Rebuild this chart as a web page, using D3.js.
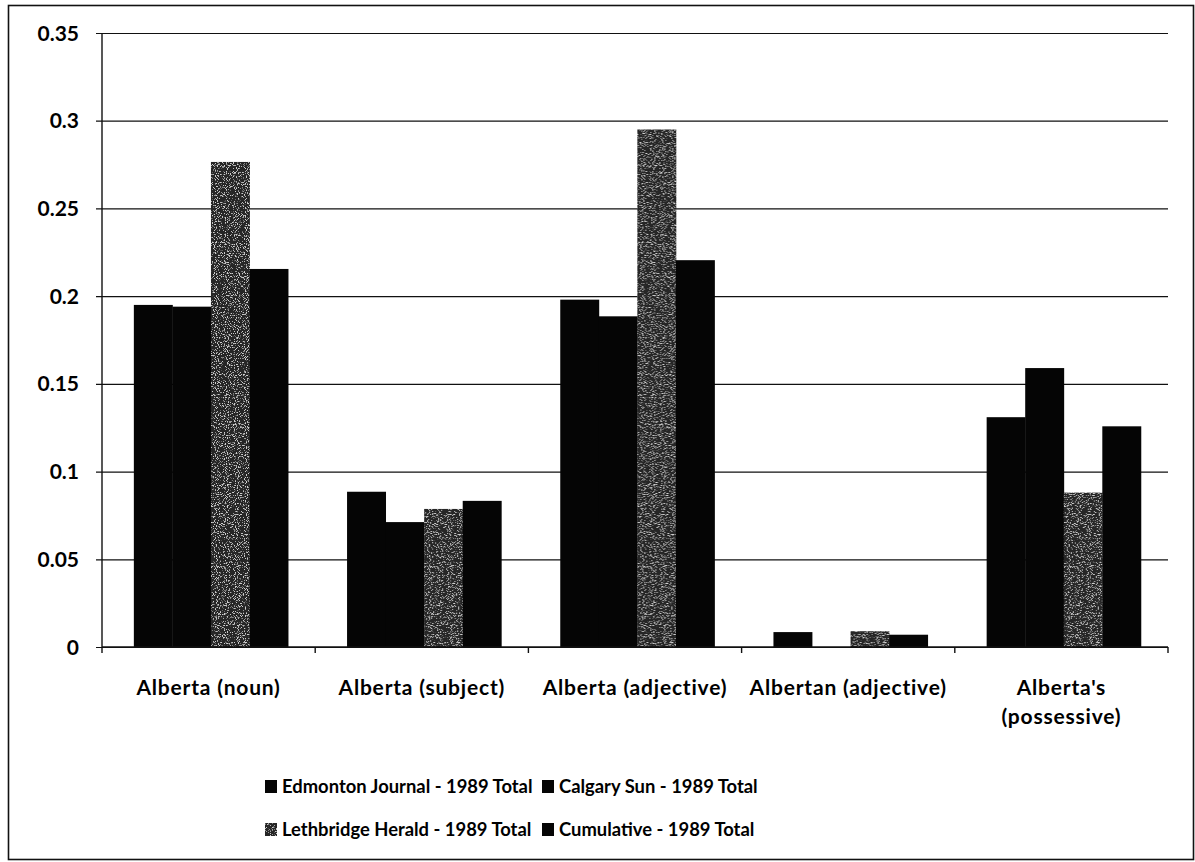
<!DOCTYPE html>
<html>
<head>
<meta charset="utf-8">
<script src="https://cdn.jsdelivr.net/npm/d3@7"></script>
<style>
  html, body { margin: 0; padding: 0; background: #fff; }
  svg { display: block; }
  text { font-family: Lato, "Open Sans", sans-serif; fill: #000; }
</style>
</head>
<body>
<svg id="chart" width="1195" height="862"></svg>
<script>
// Categories (x-axis groups) and their label lines
const categories = ["Alberta (noun)", "Alberta (subject)", "Alberta (adjective)", "Albertan (adjective)", "Alberta's (possessive)"];
const categoryLines = [["Alberta (noun)"], ["Alberta (subject)"], ["Alberta (adjective)"], ["Albertan (adjective)"], ["Alberta's", "(possessive)"]];

// Series names
const seriesNames = ["Edmonton Journal - 1989 Total", "Calgary Sun - 1989 Total", "Lethbridge Herald - 1989 Total", "Cumulative - 1989 Total"];

// Series values, one per category
const edmonton   = [0.195, 0.0885, 0.198, 0.0085, 0.131];
const calgary    = [0.194, 0.0712, 0.1885, 0.0, 0.159];
const lethbridge = [0.2765, 0.0787, 0.2950, 0.009, 0.088];
const cumulative = [0.2155, 0.0833, 0.2205, 0.007, 0.1258];

// Y-axis tick values and labels
const yTicks = [0, 0.05, 0.1, 0.15, 0.2, 0.25, 0.3, 0.35];
const yTickLabels = ["0", "0.05", "0.1", "0.15", "0.2", "0.25", "0.3", "0.35"];

const seriesValues = [edmonton, calgary, lethbridge, cumulative];
const seriesFill = ["#050505", "#050505", "url(#grainFill)", "#050505"];

const svg = d3.select("#chart");

// Defs: speckled texture for the Lethbridge series
const defs = svg.append("defs");
const grain = defs.append("filter").attr("id", "grain")
  .attr("x", 0).attr("y", 0).attr("width", 1).attr("height", 1)
  .attr("filterUnits", "objectBoundingBox");
grain.append("feTurbulence").attr("type", "fractalNoise")
  .attr("baseFrequency", 0.9).attr("numOctaves", 2).attr("seed", 7).attr("result", "noise");
grain.append("feColorMatrix").attr("in", "noise").attr("type", "matrix")
  .attr("values", "0 0 0 0 0.62  0 0 0 0 0.62  0 0 0 0 0.62  8 0 0 0 -4.5")
  .attr("result", "speck");
grain.append("feComposite").attr("in", "speck").attr("in2", "SourceGraphic").attr("operator", "atop");

const pat = defs.append("pattern").attr("id", "grainFill")
  .attr("patternUnits", "userSpaceOnUse").attr("width", 1195).attr("height", 862);
pat.append("rect").attr("width", 1195).attr("height", 862).attr("fill", "#262626").attr("filter", "url(#grain)");

// Outer frame
svg.append("rect").attr("x", 8.5).attr("y", 5.5).attr("width", 1185).attr("height", 854)
  .attr("fill", "#fff").attr("stroke", "#111").attr("stroke-width", 1.6);

// Plot area
const plot = { left: 102, right: 1168, top: 33, bottom: 647 };

const y = d3.scaleLinear().domain([0, 0.35]).range([plot.bottom, plot.top]);
const x0 = d3.scaleBand().domain(categories).range([plot.left, plot.right]).paddingInner(0).paddingOuter(0);
const x1 = d3.scaleBand().domain(d3.range(seriesNames.length)).range([0, x0.bandwidth()])
  .paddingInner(0).paddingOuter(0.765).align(0.54);

// Gridlines with left tick marks
const yAxis = d3.axisLeft(y).tickValues(yTicks)
  .tickSize(-(plot.right - plot.left))
  .tickPadding(23)
  .tickFormat((d, i) => yTickLabels[i]);
const gy = svg.append("g").attr("transform", `translate(${plot.left},0)`).call(yAxis);
gy.select(".domain").remove();
gy.selectAll(".tick line").attr("x1", -6).attr("stroke", "#111").attr("stroke-width", 1.2);
gy.selectAll(".tick text").attr("font-size", 21).attr("font-weight", 700).attr("dy", "0.34em");

// Bars
const groups = svg.append("g").selectAll("g").data(categories).join("g")
  .attr("transform", d => `translate(${x0(d)},0)`);
groups.selectAll("rect")
  .data((d, ci) => seriesValues.map((vals, si) => ({ si, v: vals[ci] })))
  .join("rect")
  .attr("x", d => x1(d.si))
  .attr("width", x1.bandwidth() + 0.4)
  .attr("y", d => y(d.v))
  .attr("height", d => y(0) - y(d.v))
  .attr("fill", d => seriesFill[d.si]);

// Y axis line
svg.append("line").attr("x1", plot.left).attr("x2", plot.left)
  .attr("y1", plot.top).attr("y2", plot.bottom)
  .attr("stroke", "#111").attr("stroke-width", 1.4);

// X axis with category boundary ticks
const boundaries = categories.map(c => x0(c)).concat([plot.right]);
svg.append("line").attr("x1", plot.left).attr("x2", plot.right)
  .attr("y1", plot.bottom).attr("y2", plot.bottom)
  .attr("stroke", "#111").attr("stroke-width", 1.4);
svg.append("g").selectAll("line").data(boundaries).join("line")
  .attr("x1", d => d).attr("x2", d => d)
  .attr("y1", plot.bottom).attr("y2", plot.bottom + 6)
  .attr("stroke", "#111").attr("stroke-width", 1.4);

// Category labels
const xl = svg.append("g").selectAll("text").data(categories).join("text")
  .attr("x", d => x0(d) + x0.bandwidth() / 2)
  .attr("y", 695)
  .attr("text-anchor", "middle")
  .attr("font-size", 21).attr("font-weight", 700)
  .attr("letter-spacing", 0.8);
xl.selectAll("tspan").data((d, i) => categoryLines[i]).join("tspan")
  .attr("x", function () { return d3.select(this.parentNode).attr("x"); })
  .attr("dy", (d, i) => i === 0 ? 0 : 29)
  .text(d => d);

// Legend: two rows, two columns
const legendPos = [[265, 793], [542, 793], [265, 836], [542, 836]];
const lg = svg.append("g").selectAll("g").data(seriesNames).join("g")
  .attr("transform", (d, i) => `translate(${legendPos[i][0]},${legendPos[i][1]})`);
lg.append("rect").attr("x", 0).attr("y", -13).attr("width", 12).attr("height", 13)
  .attr("fill", (d, i) => seriesFill[i]);
lg.append("text").attr("x", 17).attr("y", 0)
  .attr("font-size", 18.4).attr("font-weight", 700)
  .text(d => d);
</script>
</body>
</html>
